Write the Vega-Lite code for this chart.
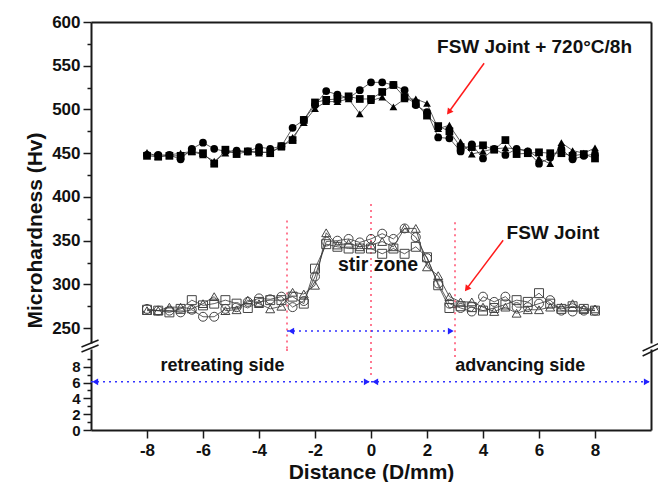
{
 "$schema": "https://vega.github.io/schema/vega-lite/v6.json",
 "background": "white",
 "padding": {"left": 24, "top": 13, "right": 0, "bottom": 0},
 "spacing": 6,
 "bounds": "flush",
 "config": {
  "view": {"stroke": null},
  "font": "Liberation Sans",
  "axis": {"grid": false, "domainColor": "#1a1a1a", "domainWidth": 2, "tickColor": "#1a1a1a", "tickWidth": 1.5, "labelFont": "Liberation Sans", "labelFontWeight": "bold", "labelFontSize": 17, "labelColor": "#111", "titleFont": "Liberation Sans", "titleFontWeight": "bold", "titleFontSize": 21, "titleColor": "#111", "labelOverlap": false, "labelFlush": false},
  "text": {"font": "Liberation Sans", "fontWeight": "bold", "fontSize": 17, "color": "#111"}
 },
 "datasets": {
  "hv": [
   {"d": -8.0, "aS": 447, "aC": 448, "aT": 451, "fS": 271, "fC": 272, "fT": 270},
   {"d": -7.6, "aS": 446, "aC": 448, "aT": 446, "fS": 270, "fC": 270, "fT": 270},
   {"d": -7.2, "aS": 447, "aC": 448, "aT": 448, "fS": 268, "fC": 270, "fT": 274},
   {"d": -6.8, "aS": 447, "aC": 443, "aT": 450, "fS": 272, "fC": 268, "fT": 274},
   {"d": -6.4, "aS": 452, "aC": 455, "aT": 452, "fS": 282, "fC": 271, "fT": 272},
   {"d": -6.0, "aS": 450, "aC": 462, "aT": 448, "fS": 276, "fC": 263, "fT": 278},
   {"d": -5.6, "aS": 438, "aC": 455, "aT": 441, "fS": 278, "fC": 263, "fT": 286},
   {"d": -5.2, "aS": 454, "aC": 452, "aT": 450, "fS": 282, "fC": 272, "fT": 270},
   {"d": -4.8, "aS": 449, "aC": 453, "aT": 452, "fS": 278, "fC": 274, "fT": 271},
   {"d": -4.4, "aS": 452, "aC": 452, "aT": 452, "fS": 273, "fC": 280, "fT": 282},
   {"d": -4.0, "aS": 452, "aC": 457, "aT": 450, "fS": 280, "fC": 284, "fT": 278},
   {"d": -3.6, "aS": 450, "aC": 455, "aT": 452, "fS": 282, "fC": 283, "fT": 272},
   {"d": -3.2, "aS": 458, "aC": 458, "aT": 457, "fS": 282, "fC": 286, "fT": 275},
   {"d": -2.8, "aS": 465, "aC": 479, "aT": 468, "fS": 286, "fC": 274, "fT": 291},
   {"d": -2.4, "aS": 488, "aC": 488, "aT": 485, "fS": 278, "fC": 281, "fT": 289},
   {"d": -2.0, "aS": 508, "aC": 505, "aT": 501, "fS": 318, "fC": 309, "fT": 299},
   {"d": -1.6, "aS": 511, "aC": 521, "aT": 509, "fS": 346, "fC": 349, "fT": 359},
   {"d": -1.2, "aS": 512, "aC": 517, "aT": 509, "fS": 343, "fC": 350, "fT": 345},
   {"d": -0.8, "aS": 515, "aC": 513, "aT": 512, "fS": 341, "fC": 352, "fT": 347},
   {"d": -0.4, "aS": 512, "aC": 522, "aT": 495, "fS": 341, "fC": 348, "fT": 343},
   {"d": 0.0, "aS": 512, "aC": 531, "aT": 510, "fS": 341, "fC": 352, "fT": 345},
   {"d": 0.4, "aS": 520, "aC": 531, "aT": 514, "fS": 335, "fC": 358, "fT": 349},
   {"d": 0.8, "aS": 528, "aC": 528, "aT": 503, "fS": 341, "fC": 352, "fT": 343},
   {"d": 1.2, "aS": 514, "aC": 522, "aT": 512, "fS": 335, "fC": 364, "fT": 364},
   {"d": 1.6, "aS": 507, "aC": 505, "aT": 512, "fS": 343, "fC": 354, "fT": 364},
   {"d": 2.0, "aS": 493, "aC": 497, "aT": 507, "fS": 331, "fC": 330, "fT": 320},
   {"d": 2.4, "aS": 481, "aC": 468, "aT": 478, "fS": 299, "fC": 301, "fT": 310},
   {"d": 2.8, "aS": 475, "aC": 467, "aT": 482, "fS": 273, "fC": 278, "fT": 286},
   {"d": 3.2, "aS": 457, "aC": 452, "aT": 463, "fS": 275, "fC": 273, "fT": 280},
   {"d": 3.6, "aS": 457, "aC": 460, "aT": 449, "fS": 274, "fC": 269, "fT": 280},
   {"d": 4.0, "aS": 459, "aC": 444, "aT": 452, "fS": 270, "fC": 286, "fT": 274},
   {"d": 4.4, "aS": 454, "aC": 455, "aT": 455, "fS": 273, "fC": 280, "fT": 269},
   {"d": 4.8, "aS": 465, "aC": 448, "aT": 456, "fS": 277, "fC": 286, "fT": 274},
   {"d": 5.2, "aS": 449, "aC": 455, "aT": 455, "fS": 282, "fC": 274, "fT": 267},
   {"d": 5.6, "aS": 450, "aC": 452, "aT": 453, "fS": 280, "fC": 274, "fT": 271},
   {"d": 6.0, "aS": 451, "aC": 438, "aT": 444, "fS": 290, "fC": 278, "fT": 271},
   {"d": 6.4, "aS": 450, "aC": 445, "aT": 438, "fS": 278, "fC": 282, "fT": 274},
   {"d": 6.8, "aS": 450, "aC": 455, "aT": 462, "fS": 272, "fC": 270, "fT": 274},
   {"d": 7.2, "aS": 447, "aC": 443, "aT": 453, "fS": 275, "fC": 269, "fT": 278},
   {"d": 7.6, "aS": 449, "aC": 447, "aT": 450, "fS": 272, "fC": 270, "fT": 272},
   {"d": 8.0, "aS": 444, "aC": 449, "aT": 456, "fS": 270, "fC": 270, "fT": 272}
  ]
 },
 "vconcat": [
  {
   "width": 560,
   "height": 321,
   "resolve": {"axis": {"x": "independent", "y": "independent"}},
   "layer": [
    {
     "data": {"values": [{"x": 0, "y": 400}]},
     "mark": {"type": "point", "opacity": 0},
     "encoding": {
      "x": {"field": "x", "type": "quantitative", "scale": {"domain": [-10, 10], "nice": false, "zero": false}, "axis": {"orient": "top", "labels": false, "ticks": false, "title": null}},
      "y": {"field": "y", "type": "quantitative", "scale": {"domain": [233, 600], "nice": false, "zero": false}, "axis": {"orient": "right", "labels": false, "ticks": false, "title": null}}
     }
    },
    {
     "data": {"values": [{"x": -3, "y": 373, "y2": 226}, {"x": 0, "y": 392, "y2": 226}, {"x": 3, "y": 371, "y2": 226}]},
     "mark": {"type": "rule", "color": "#ff4d6d", "strokeDash": [2, 4], "strokeWidth": 1.5},
     "encoding": {"x": {"field": "x", "type": "quantitative", "axis": null}, "y": {"field": "y", "type": "quantitative", "axis": null}, "y2": {"field": "y2"}}
    },
    {
     "data": {"values": [{"x": -3, "x2": 3, "y": 246.6}]},
     "mark": {"type": "rule", "color": "#3333ff", "strokeDash": [2, 4], "strokeWidth": 1.5},
     "encoding": {"x": {"field": "x", "type": "quantitative", "axis": null}, "x2": {"field": "x2"}, "y": {"field": "y", "type": "quantitative", "axis": null}}
    },
    {
     "data": {"values": [{"x": -2.85, "y": 246.6}]},
     "mark": {"type": "point", "shape": "triangle-left", "filled": true, "color": "#2222ff", "size": 45, "opacity": 1},
     "encoding": {"x": {"field": "x", "type": "quantitative", "axis": null}, "y": {"field": "y", "type": "quantitative", "axis": null}}
    },
    {
     "data": {"values": [{"x": 2.85, "y": 246.6}]},
     "mark": {"type": "point", "shape": "triangle-right", "filled": true, "color": "#2222ff", "size": 45, "opacity": 1},
     "encoding": {"x": {"field": "x", "type": "quantitative", "axis": null}, "y": {"field": "y", "type": "quantitative", "axis": null}}
    },
    {
     "data": {"name": "hv"},
     "transform": [{"fold": ["aS", "aC", "aT", "fS", "fC", "fT"], "as": ["series", "hv"]}],
     "mark": {"type": "line", "color": "#333", "strokeWidth": 0.8},
     "encoding": {"x": {"field": "d", "type": "quantitative", "axis": null}, "y": {"field": "hv", "type": "quantitative", "axis": null}, "detail": {"field": "series"}}
    },
    {
     "data": {"name": "hv"},
     "transform": [{"fold": ["aS", "aC", "aT", "fS", "fC", "fT"], "as": ["series", "hv"]}, {"filter": {"field": "series", "oneOf": ["fS", "fC", "fT"]}}],
     "mark": {"type": "point", "filled": false, "color": "#444", "strokeWidth": 1, "size": 80, "opacity": 1},
     "encoding": {
      "x": {"field": "d", "type": "quantitative", "axis": null},
      "y": {"field": "hv", "type": "quantitative", "axis": null},
      "shape": {"field": "series", "type": "nominal", "scale": {"domain": ["aS", "aC", "aT", "fS", "fC", "fT"], "range": ["square", "circle", "triangle-up", "square", "circle", "triangle-up"]}, "legend": null}
     }
    },
    {
     "data": {"name": "hv"},
     "transform": [{"fold": ["aS", "aC", "aT", "fS", "fC", "fT"], "as": ["series", "hv"]}, {"filter": {"field": "series", "oneOf": ["aS", "aC", "aT"]}}],
     "mark": {"type": "point", "filled": true, "color": "#000", "size": 60, "opacity": 1},
     "encoding": {
      "x": {"field": "d", "type": "quantitative", "axis": null},
      "y": {"field": "hv", "type": "quantitative", "axis": {"orient": "left", "values": [250, 275, 300, 325, 350, 375, 400, 425, 450, 475, 500, 525, 550, 575, 600], "labelExpr": "datum.value % 50 === 0 ? datum.label : ''", "tickSize": {"condition": {"test": "datum.value % 50 === 0", "value": 8}, "value": 4}, "labelPadding": 3, "title": "Microhardness (Hv)", "titleY": 208, "titlePadding": 6}},
      "shape": {"field": "series", "type": "nominal", "scale": {"domain": ["aS", "aC", "aT", "fS", "fC", "fT"], "range": ["square", "circle", "triangle-up", "square", "circle", "triangle-up"]}, "legend": null}
     }
    },
    {
     "data": {"values": [{"x": 5.84, "y": 571, "t": "FSW Joint + 720°C/8h"}, {"x": 6.5, "y": 358.5, "t": "FSW Joint"}]},
     "mark": {"type": "text", "fontSize": 19, "fontWeight": "bold"},
     "encoding": {"x": {"field": "x", "type": "quantitative", "axis": null}, "y": {"field": "y", "type": "quantitative", "axis": null}, "text": {"field": "t"}}
    },
    {
     "data": {"values": [{"x": 0.25, "y": 322, "t": "stir zone"}]},
     "mark": {"type": "text", "fontSize": 19.5, "fontWeight": "bold"},
     "encoding": {"x": {"field": "x", "type": "quantitative", "axis": null}, "y": {"field": "y", "type": "quantitative", "axis": null}, "text": {"field": "t"}}
    },
    {
     "data": {"values": [{"x": 4.04, "y": 552.8, "x2": 2.8, "y2": 498}, {"x": 4.72, "y": 350.5, "x2": 3.44, "y2": 296}]},
     "mark": {"type": "rule", "color": "#ff1a1a", "strokeWidth": 1.5},
     "encoding": {"x": {"field": "x", "type": "quantitative", "axis": null}, "x2": {"field": "x2"}, "y": {"field": "y", "type": "quantitative", "axis": null}, "y2": {"field": "y2"}}
    },
    {
     "data": {"values": [{"x": 2.78, "y": 497}, {"x": 3.42, "y": 295}]},
     "mark": {"type": "point", "shape": "triangle-up", "filled": true, "color": "#ff1a1a", "size": 50, "angle": 217, "opacity": 1},
     "encoding": {"x": {"field": "x", "type": "quantitative", "axis": null}, "y": {"field": "y", "type": "quantitative", "axis": null}}
    }
   ]
  },
  {
   "width": 560,
   "height": 81,
   "resolve": {"axis": {"x": "independent", "y": "independent"}},
   "layer": [
    {
     "data": {"values": [{"x": 0, "y": 5}]},
     "mark": {"type": "point", "opacity": 0},
     "encoding": {
      "x": {"field": "x", "type": "quantitative", "scale": {"domain": [-10, 10], "nice": false, "zero": false}, "axis": {"orient": "bottom", "values": [-8, -6, -4, -2, 0, 2, 4, 6, 8], "labelExpr": "'' + datum.value", "tickSize": 8, "labelPadding": 4, "title": "Distance (D/mm)", "titlePadding": 3}},
      "y": {"field": "y", "type": "quantitative", "scale": {"domain": [0, 10.25], "nice": false, "zero": false}, "axis": {"orient": "right", "labels": false, "ticks": false, "title": null}}
     }
    },
    {
     "data": {"values": [{"x": -3, "y": 10.25, "y2": 9.5}, {"x": 0, "y": 10.25, "y2": 6.6}, {"x": 3, "y": 10.25, "y2": 9.2}]},
     "mark": {"type": "rule", "color": "#ff4d6d", "strokeDash": [2, 4], "strokeWidth": 1.5},
     "encoding": {"x": {"field": "x", "type": "quantitative", "axis": null}, "y": {"field": "y", "type": "quantitative", "axis": {"orient": "left", "values": [0, 1, 2, 3, 4, 5, 6, 7, 8, 9], "labelExpr": "datum.value % 2 === 0 ? datum.label : ''", "labelFontSize": 15, "tickSize": {"condition": {"test": "datum.value % 2 === 0", "value": 8}, "value": 4}, "labelPadding": 3, "title": null}}, "y2": {"field": "y2"}}
    },
    {
     "data": {"values": [{"x": -10, "x2": 0, "y": 6.1}, {"x": 0, "x2": 10, "y": 6.1}]},
     "mark": {"type": "rule", "color": "#3333ff", "strokeDash": [2, 4], "strokeWidth": 1.5},
     "encoding": {"x": {"field": "x", "type": "quantitative", "axis": null}, "x2": {"field": "x2"}, "y": {"field": "y", "type": "quantitative", "axis": null}}
    },
    {
     "data": {"values": [{"x": -9.85, "y": 6.1}, {"x": 0.15, "y": 6.1}]},
     "mark": {"type": "point", "shape": "triangle-left", "filled": true, "color": "#2222ff", "size": 45, "opacity": 1},
     "encoding": {"x": {"field": "x", "type": "quantitative", "axis": null}, "y": {"field": "y", "type": "quantitative", "axis": null}}
    },
    {
     "data": {"values": [{"x": -0.15, "y": 6.1}, {"x": 9.85, "y": 6.1}]},
     "mark": {"type": "point", "shape": "triangle-right", "filled": true, "color": "#2222ff", "size": 45, "opacity": 1},
     "encoding": {"x": {"field": "x", "type": "quantitative", "axis": null}, "y": {"field": "y", "type": "quantitative", "axis": null}}
    },
    {
     "data": {"values": [{"x": -5.3, "y": 8.1, "t": "retreating side"}, {"x": 5.33, "y": 8.1, "t": "advancing side"}]},
     "mark": {"type": "text", "fontSize": 18, "fontWeight": "bold"},
     "encoding": {"x": {"field": "x", "type": "quantitative", "axis": null}, "y": {"field": "y", "type": "quantitative", "axis": null}, "text": {"field": "t"}}
    },
    {
     "data": {"values": [{"x": -10.34, "y": 9.87, "x2": -9.73, "y2": 10.76}, {"x": -10.34, "y": 10.5, "x2": -9.73, "y2": 11.39}, {"x": 9.7, "y": 9.37, "x2": 10.3, "y2": 10.38}, {"x": 9.7, "y": 10.0, "x2": 10.3, "y2": 11.0}]},
     "mark": {"type": "rule", "color": "#1a1a1a", "strokeWidth": 1.5},
     "encoding": {"x": {"field": "x", "type": "quantitative", "axis": null}, "x2": {"field": "x2"}, "y": {"field": "y", "type": "quantitative", "axis": null}, "y2": {"field": "y2"}}
    }
   ]
  }
 ]
}
